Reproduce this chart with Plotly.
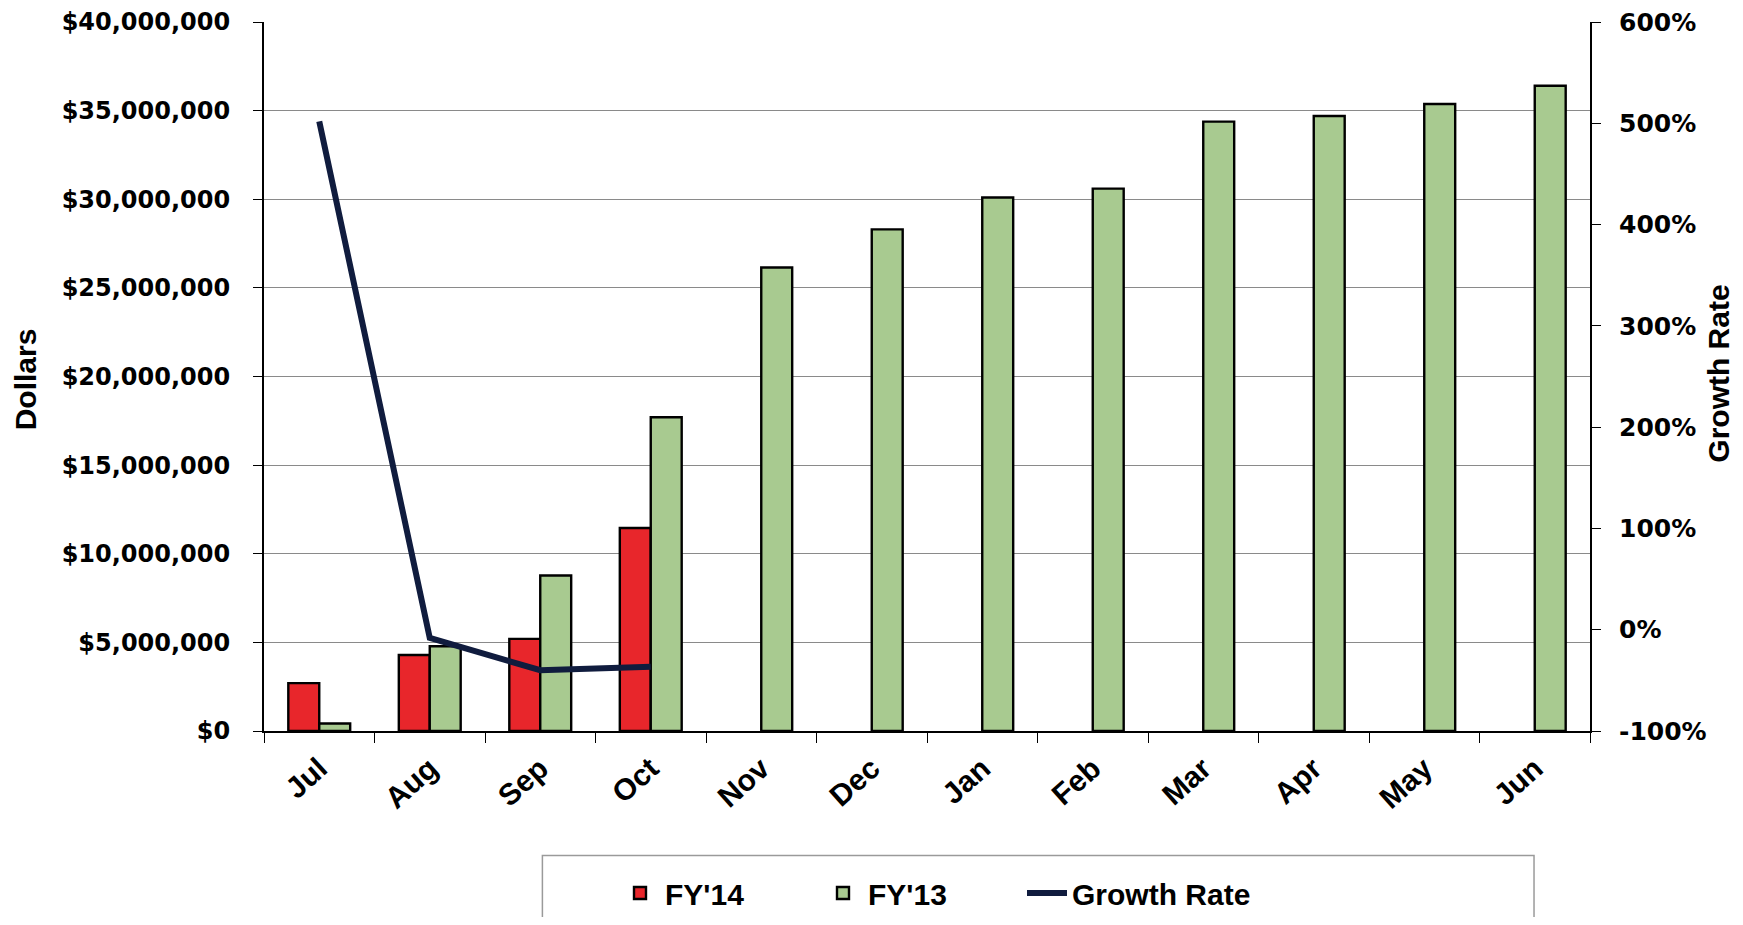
import plotly.graph_objects as go

months = ["Jul", "Aug", "Sep", "Oct", "Nov", "Dec", "Jan", "Feb", "Mar", "Apr", "May", "Jun"]
fy14 = [2.70e6, 4.29e6, 5.20e6, 11.45e6, None, None, None, None, None, None, None, None]
fy13 = [0.42e6, 4.78e6, 8.77e6, 17.70e6, 26.15e6, 28.30e6, 30.10e6, 30.60e6, 34.38e6, 34.70e6, 35.37e6, 36.40e6]
growth_months = ["Jul", "Aug", "Sep", "Oct"]
growth = [5.02, -0.08, -0.40, -0.365]
rate_ticks = [-1, 0, 1, 2, 3, 4, 5, 6]
rate_labels = ["-100%", "0%", "100%", "200%", "300%", "400%", "500%", "600%"]

# page is 1743x925; the html body has an 8px margin
OFF = 8
W, H = 1743 - 2 * OFF, 925 - 2 * OFF
L, R, T, B = 263.5, 1590, 22, 731.5   # plot area in page pixels

def px_x(x):
    return (x - L) / (R - L)

def px_y(y):
    return (B - y) / (B - T)

bold = dict(color="black", weight="bold")
legfont = dict(family="Liberation Sans", size=30, **bold)
titlefont = dict(family="Liberation Sans", size=30, **bold)

fig = go.Figure()
fig.add_trace(go.Bar(x=months, y=fy14, name="FY'14", legend="legend",
                     marker=dict(color="#E8262B", line=dict(color="black", width=2.4))))
fig.add_trace(go.Bar(x=months, y=fy13, name="FY'13", legend="legend2",
                     marker=dict(color="#A8CA90", line=dict(color="black", width=2.4))))
fig.add_trace(go.Scatter(x=growth_months, y=growth, name="Growth Rate", yaxis="y2", legend="legend3",
                         mode="lines", line=dict(color="#101C3E", width=6)))

def leg(xpx):
    return dict(orientation="h", xref="container", yref="container",
                x=(xpx - OFF) / W, xanchor="left", y=1 - (893 - OFF) / H, yanchor="middle",
                font=legfont, bgcolor="rgba(0,0,0,0)", borderwidth=0, itemwidth=40)

fig.update_layout(
    width=W, height=H,
    margin=dict(l=L - OFF, r=(1743 - OFF) - R, t=T - OFF, b=(925 - OFF) - B, pad=0),
    paper_bgcolor="white", plot_bgcolor="white",
    barmode="group", bargap=0.44, bargroupgap=0,
    showlegend=True,
    legend=leg(615), legend2=leg(818), legend3=leg(1022),
    xaxis=dict(type="category", tickson="boundaries", ticks="outside", ticklen=10,
               tickcolor="black", showline=True, linecolor="black", linewidth=2,
               showgrid=False, tickangle=-42, automargin=False, ticklabelstandoff=6,
               ticklabeloverflow="allow",
               tickfont=dict(family="Liberation Sans", size=30, **bold)),
    yaxis=dict(range=[0, 40e6], dtick=5e6, tickprefix="$", tickformat=",.0f",
               ticks="outside", ticklen=9, tickcolor="black", ticklabelstandoff=18,
               showline=True, linecolor="black", linewidth=2, automargin=False,
               ticklabeloverflow="allow",
               showgrid=True, gridcolor="#8a8a8a", gridwidth=1.3, zeroline=False,
               tickfont=dict(family="DejaVu Sans", size=24, **bold)),
    yaxis2=dict(range=[-1, 6], tickvals=rate_ticks, ticktext=rate_labels,
                overlaying="y", side="right", automargin=False,
                ticks="outside", ticklen=9, tickcolor="black", ticklabelstandoff=13,
                ticklabeloverflow="allow",
                showline=True, linecolor="black", linewidth=2,
                showgrid=False, zeroline=False,
                tickfont=dict(family="DejaVu Sans", size=25, **bold)),
    annotations=[
        dict(text="Dollars", xref="paper", yref="paper", x=px_x(25), y=px_y(380),
             showarrow=False, textangle=-90, xanchor="center", yanchor="middle",
             font=titlefont),
        dict(text="Growth Rate", xref="paper", yref="paper", x=px_x(1719), y=px_y(374),
             showarrow=False, textangle=-90, xanchor="center", yanchor="middle",
             font=titlefont),
    ],
    shapes=[dict(type="rect", xref="paper", yref="paper",
                 x0=px_x(542), x1=px_x(1534), y0=px_y(856), y1=px_y(940),
                 line=dict(color="#9a9a9a", width=1.5), fillcolor="rgba(0,0,0,0)", layer="below")],
)

fig.write_html("out.html")
